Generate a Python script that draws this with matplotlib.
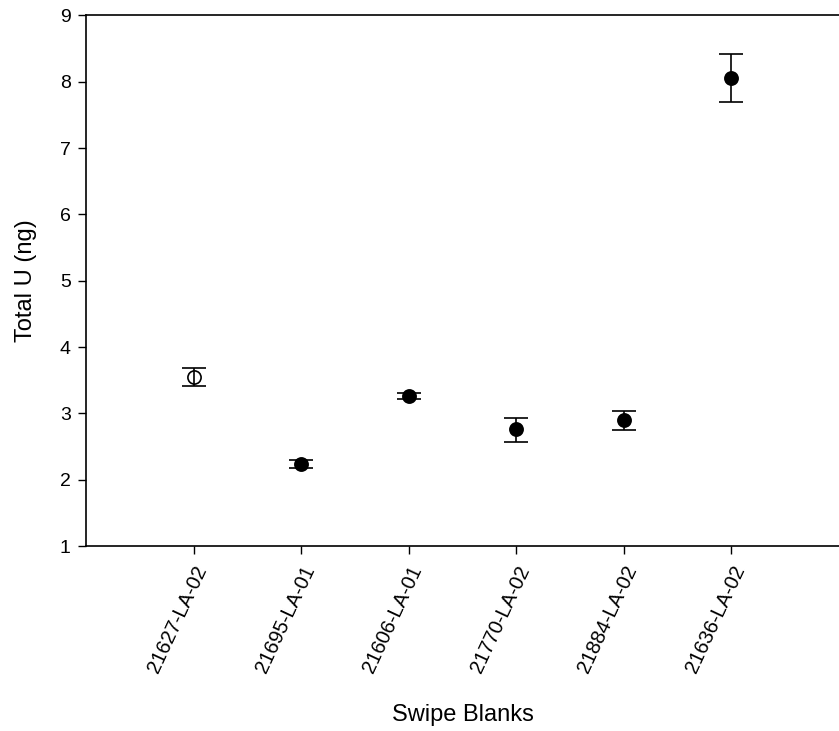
import numpy as np
import matplotlib.pyplot as plt

plt.rcParams['font.family'] = ['Liberation Sans', 'DejaVu Sans']

samples = ['21627-LA-02', '21695-LA-01', '21606-LA-01', '21770-LA-02', '21884-LA-02', '21636-LA-02']
total_u = [3.55, 2.24, 3.26, 2.77, 2.90, 8.06]
err_lo = [0.13, 0.07, 0.04, 0.20, 0.15, 0.37]
err_hi = [0.13, 0.05, 0.04, 0.16, 0.14, 0.35]
open_marker = [True, False, False, False, False, False]

fig = plt.figure(figsize=(8.39, 7.31), dpi=100)
ax = fig.add_axes([0.1025, 0.253, 0.8975, 0.726])

x = np.arange(1, len(samples) + 1)
for i in range(len(samples)):
    ax.errorbar(x[i], total_u[i], yerr=[[err_lo[i]], [err_hi[i]]], fmt='o',
                color='black', mfc='none' if open_marker[i] else 'black',
                mec='black', ms=9.5, mew=1.2, elinewidth=1.2, capsize=8.5, capthick=1.2)

ax.set_xlim(0, 7)
ax.set_ylim(1, 9)
ax.set_yticks(range(1, 10))
ax.set_xticks(x)
ax.set_xticklabels(samples, rotation=65, ha='right', rotation_mode='anchor', fontsize=14.5)
ax.tick_params(axis='y', labelsize=14, direction='out', length=6, width=1, pad=5)
ax.tick_params(axis='x', direction='out', length=6, width=1, pad=6)
ax.spines['right'].set_visible(False)
for s in ['left', 'bottom', 'top']:
    ax.spines[s].set_linewidth(1.2)

ax.set_ylabel('Total U (ng)', fontsize=17, labelpad=16)
ax.set_xlabel('Swipe Blanks', fontsize=17, labelpad=20)

fig.savefig('out.png', dpi=100)
